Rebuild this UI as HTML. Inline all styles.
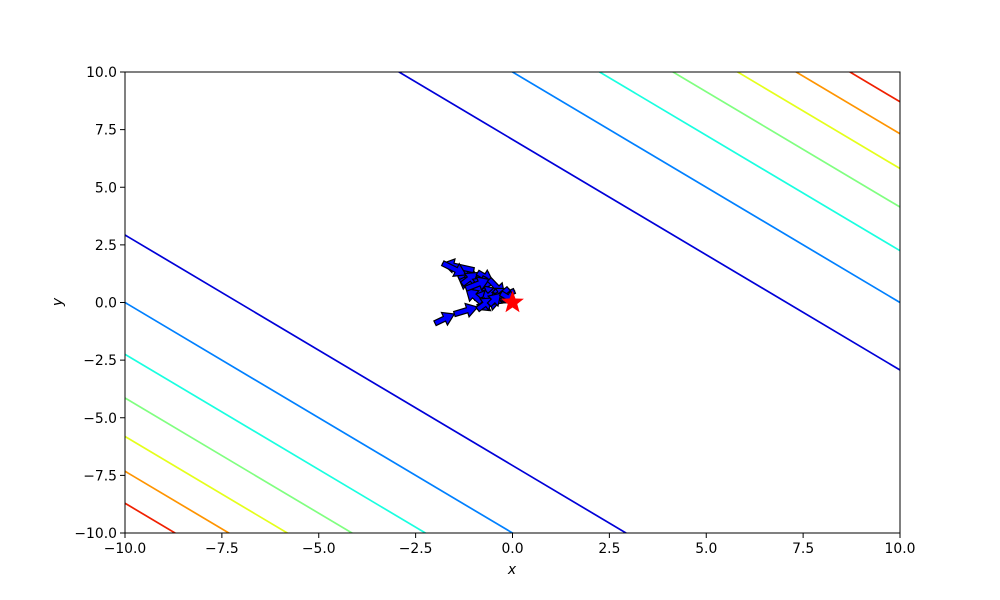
<!DOCTYPE html>
<html><head><meta charset="utf-8"><style>
html,body{margin:0;padding:0;background:#fff;overflow:hidden;width:1000px;height:600px}
svg{display:block}
svg text{font-family:"DejaVu Sans","Liberation Sans",sans-serif;font-size:13.9px;fill:#000}
</style></head><body>
<svg id="chart" width="1000" height="600" xmlns="http://www.w3.org/2000/svg">
<defs><clipPath id="clip"><rect x="125" y="72" width="775" height="461"/></clipPath></defs>
<g id="contours" clip-path="url(#clip)"></g>
<g id="arrows" clip-path="url(#clip)"></g>
<g id="axes"></g>
</svg>
<script>
const levels=[50,100,150,200,250,300,350];
const levelColors=["#0000d8","#0080ff","#19ffe0","#80ff80","#e5ff1a","#ff9400","#f02000"];
const xTicks=[-10,-7.5,-5,-2.5,0,2.5,5,7.5,10];
const yTicks=[-10,-7.5,-5,-2.5,0,2.5,5,7.5,10];
const pathX=[-2.0,-1.5,-0.9,-0.3,0.05,-0.5,-1.0,-0.6,-1.2,-0.8,-1.4,-1.0,-1.8,-1.2,-0.7,-1.3,-0.9,-0.5,-1.1,-0.7,-1.0,-0.4,-0.8,-1.2,-0.6,-0.2,-0.9,-0.5,-0.1,-0.6,-0.3,0.1];
const pathY=[-0.9,-0.5,-0.2,0.1,0.5,0.1,0.7,1.2,0.9,0.4,1.1,1.4,1.7,1.2,0.6,0.8,1.3,0.9,0.5,1.1,0.2,0.6,0.0,0.6,1.0,0.3,-0.3,0.2,0.6,-0.1,0.4,0.0];
const starX=0, starY=0;
const L=125,R=900,T=72,B=533;
const sx=v=>L+(v+10)/20*(R-L);
const sy=v=>B-(v+10)/20*(B-T);
const NS="http://www.w3.org/2000/svg";
function mk(tag,attrs,parent){const e=document.createElementNS(NS,tag);for(const k in attrs)e.setAttribute(k,attrs[k]);parent.appendChild(e);return e;}
const cg=document.getElementById('contours');
levels.forEach((lv,i)=>{
  const c=Math.sqrt(lv);
  [c,-c].forEach(s=>{
    const ln=mk('line',{x1:sx(-10),y1:sy(s+10),x2:sx(10),y2:sy(s-10),stroke:levelColors[i],'stroke-width':1.7},cg);
    
    
  });
});
const ag=document.getElementById('arrows');
for(let i=0;i<pathX.length-1;i++){
  const x1=sx(pathX[i]),y1=sy(pathY[i]),x2=sx(pathX[i+1]),y2=sy(pathY[i+1]);
  const dx=x2-x1,dy=y2-y1,len=Math.hypot(dx,dy)||1,ux=dx/len,uy=dy/len,px=-uy,py=ux;
  const hl=11,hw=7,sw=2.6;
  const bx=x2-ux*hl,by=y2-uy*hl;
  const pts=[[x1+px*sw,y1+py*sw],[bx+px*sw,by+py*sw],[bx+px*hw,by+py*hw],[x2,y2],[bx-px*hw,by-py*hw],[bx-px*sw,by-py*sw],[x1-px*sw,y1-py*sw]];
  const p=mk('polygon',{points:pts.map(q=>q.join(',')).join(' '),fill:'#0000ff',stroke:'#000','stroke-width':1.2},ag);
  
  
}
{
  const cx=sx(starX),cy=sy(starY),ro=12,ri=5;let pts=[];
  for(let k=0;k<10;k++){const a=-Math.PI/2+k*Math.PI/5,r=k%2?ri:ro;pts.push((cx+r*Math.cos(a))+','+(cy+r*Math.sin(a)));}
  const s=mk('polygon',{points:pts.join(' '),fill:'#ff0000'},ag);
  
  
}
const ax=document.getElementById('axes');
const fr=mk('rect',{x:L,y:T,width:R-L,height:B-T,fill:'none',stroke:'#000','stroke-width':1},ax);


const fmt=v=>(v<0?'\u2212':'')+Math.abs(v).toFixed(1);
xTicks.forEach(v=>{
  mk('line',{x1:sx(v),y1:B,x2:sx(v),y2:B+5,stroke:'#000'},ax);
  const t=mk('text',{x:sx(v),y:B+20,'text-anchor':'middle'},ax);t.textContent=fmt(v);
  
  
});
yTicks.forEach(v=>{
  mk('line',{x1:L-5,y1:sy(v),x2:L,y2:sy(v),stroke:'#000'},ax);
  const t=mk('text',{x:L-8,y:sy(v)+5,'text-anchor':'end'},ax);t.textContent=fmt(v);
  
  
});
const xl=mk('text',{x:512,y:574,'text-anchor':'middle','font-style':'italic'},ax);xl.textContent='x';


const yl=mk('text',{x:62,y:302,'text-anchor':'middle','font-style':'italic',transform:'rotate(-90 62 302)'},ax);yl.textContent='y';


</script>
</body></html>
